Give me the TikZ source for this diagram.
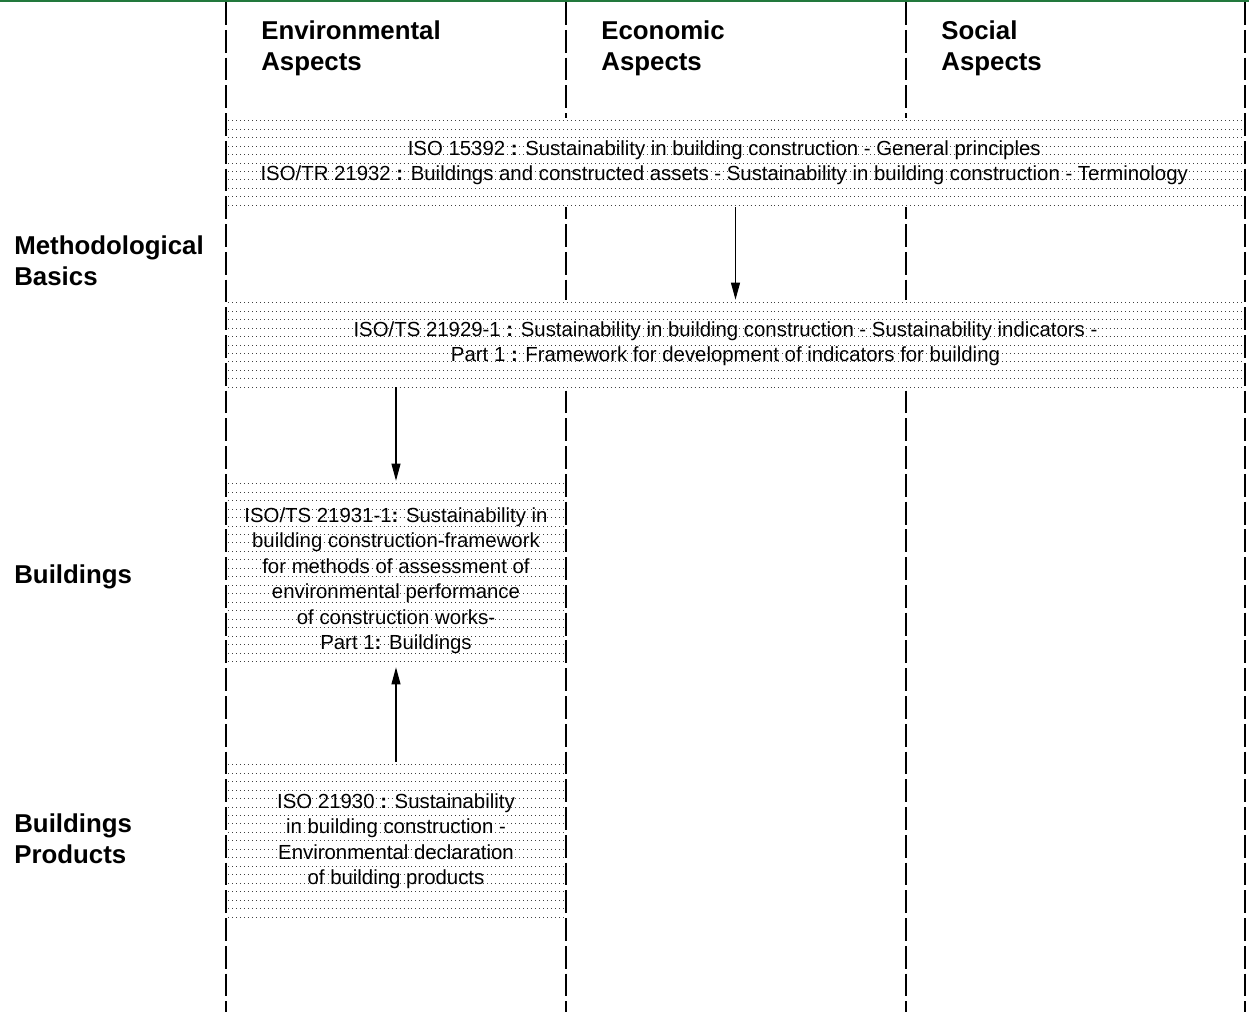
\documentclass[tikz,border=0pt]{standalone}
\usepackage{fontspec}
\setmainfont{Liberation Sans}
\usetikzlibrary{arrows.meta}
\definecolor{topgreen}{RGB}{34,120,60}

\begin{document}
\begin{tikzpicture}[x=0.02cm, y=-0.02cm,
% common options for the dotted boxes:
stdbox/.style = {fill=white, align=center, inner sep=0, font=\fontsize{11.6}{14.5}\selectfont,
            path picture={\foreach \k in {0,...,24}{
              \draw[black!75, line width=0.55pt, dash pattern=on 0.5pt off 1.77pt]
                ([yshift=-1.5pt-\k*4.82pt]path picture bounding box.north west) --
                ([yshift=-1.5pt-\k*4.82pt]path picture bounding box.north east);}}},
% common options for headings:
head/.style = {font=\fontsize{14.7}{17.9}\selectfont\bfseries, align=left, anchor=north west, inner sep=0},
lane/.style = {line width=1.1pt, dash pattern=on 13pt off 2.8pt},
link/.style = {-{Triangle[length=0.34cm, width=0.18cm]}, line width=0.6pt}]
\useasboundingbox (0,0) rectangle (1249,1012);
\draw[topgreen, line width=1.2pt] (0,0.6) -- (1249,0.6);
% lanes
\foreach \x in {226,566,906,1245}
  \draw[lane] (\x,2) -- (\x,1012);
% headings
\node[head] (env) at (261,20) {Environmental\\Aspects};
\node[head] (eco) at (601,20) {Economic\\Aspects};
\node[head] (soc) at (941,20) {Social\\Aspects};
\node[head] (meth) at (14,235) {Methodological\\Basics};
\node[head] (bldg) at (14,564) {Buildings};
\node[head] (prod) at (14,813) {Buildings\\Products};
% standards
\node[stdbox, minimum width=20.3cm, minimum height=1.78cm] (iso15392) at (735.5,162.5)
  {ISO 15392 \textbf{:} Sustainability in building construction - General principles\hspace*{0.45cm}\\
   ISO/TR 21932 \textbf{:} Buildings and constructed assets - Sustainability in building construction - Terminology\hspace*{0.45cm}};
\node[stdbox, minimum width=20.3cm, minimum height=1.74cm] (iso21929) at (735.5,343.5)
  {ISO/TS 21929-1 \textbf{:} Sustainability in building construction - Sustainability indicators -\hspace*{0.4cm}\\
   Part 1 \textbf{:} Framework for development of indicators for building\hspace*{0.4cm}};
\node[stdbox, minimum width=6.72cm, minimum height=3.72cm] (iso21931) at (396,574)
  {\rule{0pt}{16pt}ISO/TS 21931-1\textbf{:} Sustainability in\\ building construction-framework\\
   for methods of assessment of\\ environmental performance\\
   of construction works-\\ Part 1\textbf{:} Buildings};
\node[stdbox, minimum width=6.72cm, minimum height=3.16cm] (iso21930) at (396,841)
  {ISO 21930 \textbf{:} Sustainability\\ in building construction -\\
   Environmental declaration\\ of building products};
% connectors
\draw[link] (iso15392) -- (iso21929);
\draw[link] (iso21929.south -| iso21931.north) -- (iso21931.north);
\draw[link] (iso21930) -- (iso21931);
\end{tikzpicture}
\end{document}
